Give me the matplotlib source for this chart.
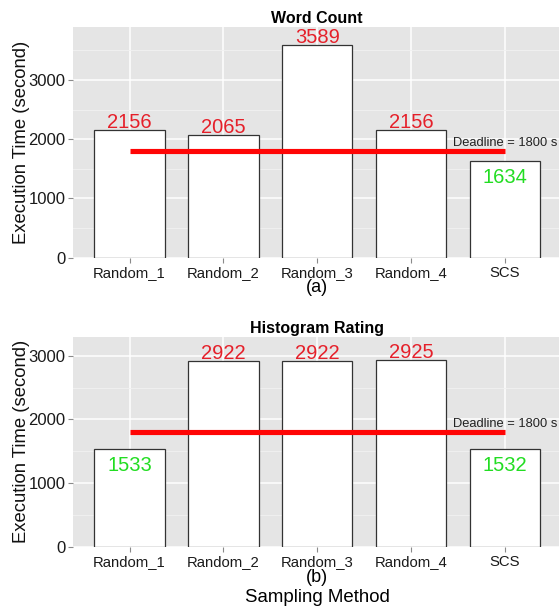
import numpy as np
import matplotlib
matplotlib.use('Agg')
import matplotlib.pyplot as plt

# data
methods = ['Random_1', 'Random_2', 'Random_3', 'Random_4', 'SCS']
word_count = [2156, 2065, 3589, 2156, 1634]
hist_rating = [1533, 2922, 2922, 2925, 1532]
deadline = 1800
titles = ['Word Count', 'Histogram Rating']
sublabels = ['(a)', '(b)']

plt.rcParams['font.family'] = ['Liberation Sans', 'DejaVu Sans']

W, H = 559, 610
fig = plt.figure(figsize=(W / 100, H / 100), dpi=100)

# panel boxes in pixels: left, top, right, bottom
boxes = [(73.3, 27.3, 561, 257.7), (73.3, 336.7, 561, 546.7)]
ytops = [3890, 3298]
series = [word_count, hist_rating]

RED_TXT = '#E5202A'
GREEN_TXT = '#22DD22'
x = np.arange(1, len(methods) + 1)

for i, (vals, box, ytop) in enumerate(zip(series, boxes, ytops)):
    l, t, r, b = box
    ax = fig.add_axes([l / W, 1 - b / H, (r - l) / W, (b - t) / H])
    ax.set_facecolor('#E5E5E5')
    for s in ax.spines.values():
        s.set_visible(False)

    ax.bar(x, vals, width=0.75, color='white', edgecolor='#333333',
           linewidth=0.9, zorder=3)
    ax.plot([x[0], x[-1]], [deadline, deadline], color='#FF0505', lw=3.7,
            solid_capstyle='butt', zorder=4)
    ax.annotate('Deadline = %d s' % deadline, (x[-1], deadline),
                xytext=(0, 3.6), textcoords='offset points', ha='center',
                va='baseline', fontsize=9.3, color='#222222', zorder=5)

    for xi, v in zip(x, vals):
        if v > deadline:
            ax.annotate(str(v), (xi, v), xytext=(0, 1.5), textcoords='offset points',
                        ha='center', va='baseline', fontsize=14.5, color=RED_TXT, zorder=5)
        else:
            ax.annotate(str(v), (xi, v), xytext=(0, -15.8), textcoords='offset points',
                        ha='center', va='baseline', fontsize=14.5, color=GREEN_TXT, zorder=5)

    ax.set_xlim(0.4, 5.6)
    ax.set_ylim(0, ytop)
    ax.set_xticks(x)
    ax.set_xticklabels(methods)
    ax.set_yticks([0, 1000, 2000, 3000])
    ax.set_yticks(np.arange(500, ytop, 1000), minor=True)
    ax.tick_params(axis='both', which='major', length=3.5, width=0.8, color='#8A8A8A',
                   labelcolor='#1A1A1A', pad=2.5)
    ax.tick_params(axis='x', labelsize=10.7)
    ax.tick_params(axis='y', labelsize=12, pad=2)
    ax.tick_params(axis='y', which='minor', length=0)
    ax.grid(True, which='major', color='white', lw=1.1, zorder=0)
    ax.grid(True, which='minor', axis='y', color='#F2F2F2', lw=0.6, zorder=0)
    ax.set_axisbelow(True)

    ax.set_title(titles[i], fontsize=11.5, fontweight='bold', pad=3)
    fig.text(22 / W, 1 - ((t + b) / 2) / H, 'Execution Time (second)', rotation=90,
             ha='center', va='center', fontsize=13.3, color='#111111')

fig.text(317 / W, 1 - 288 / H, sublabels[0], ha='center', va='center', fontsize=13)
fig.text(317 / W, 1 - 578 / H, sublabels[1], ha='center', va='center', fontsize=13)
fig.text(317 / W, 1 - 598 / H, 'Sampling Method', ha='center', va='center', fontsize=13.4)

fig.savefig('out.png', dpi=100)
